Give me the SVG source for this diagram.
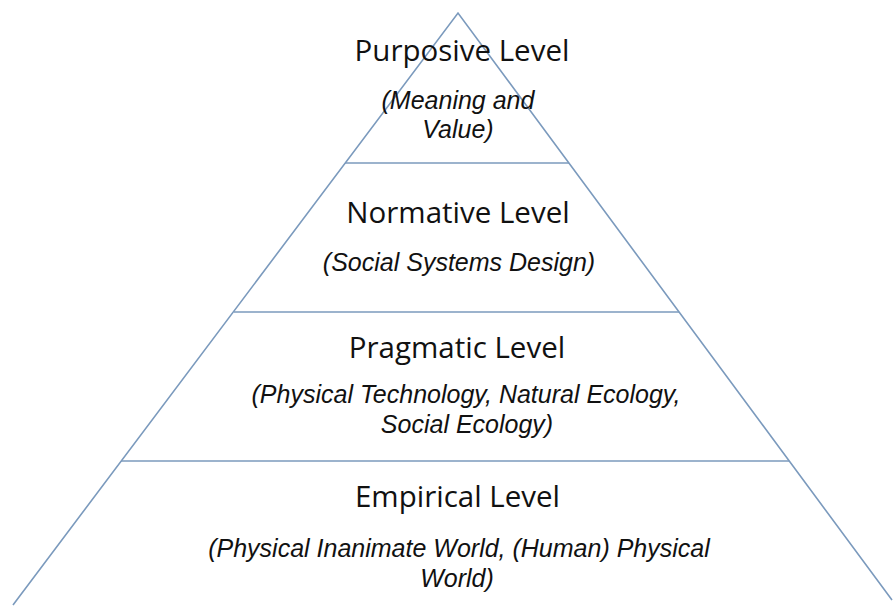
<svg xmlns="http://www.w3.org/2000/svg" width="893" height="606" viewBox="0 0 893 606">
  <style>
    .edge { stroke: #7b9abd; stroke-width: 1.6; fill: none; }
    .title { font-family: "Open Sans", "Noto Sans", sans-serif; font-size: 29.5px; fill: #111; text-anchor: middle; }
    .sub { font-family: "Liberation Sans", Arial, sans-serif; font-size: 25px; font-style: italic; fill: #111; text-anchor: middle; }
  </style>
  <rect width="893" height="606" fill="#ffffff"/>
  <g id="connectors">
    <path class="edge" d="M 13 605 L 458 13 L 892 600"/>
    <line class="edge" x1="345" y1="163" x2="569" y2="163"/>
    <line class="edge" x1="234" y1="312" x2="679" y2="312"/>
    <line class="edge" x1="121" y1="461" x2="789" y2="461"/>
  </g>
  <g id="purposive">
    <text class="title" x="462" y="61">Purposive Level</text>
    <text class="sub" x="458" y="109">(Meaning and</text>
    <text class="sub" x="458" y="137.5">Value)</text>
  </g>
  <g id="normative">
    <text class="title" x="458" y="223">Normative Level</text>
    <text class="sub" x="459" y="271">(Social Systems Design)</text>
  </g>
  <g id="pragmatic">
    <text class="title" x="457" y="358">Pragmatic Level</text>
    <text class="sub" x="466" y="403">(Physical Technology, Natural Ecology,</text>
    <text class="sub" x="467" y="433">Social Ecology)</text>
  </g>
  <g id="empirical">
    <text class="title" x="457.5" y="507">Empirical Level</text>
    <text class="sub" x="459" y="557">(Physical Inanimate World, (Human) Physical</text>
    <text class="sub" x="457" y="587">World)</text>
  </g>
</svg>
